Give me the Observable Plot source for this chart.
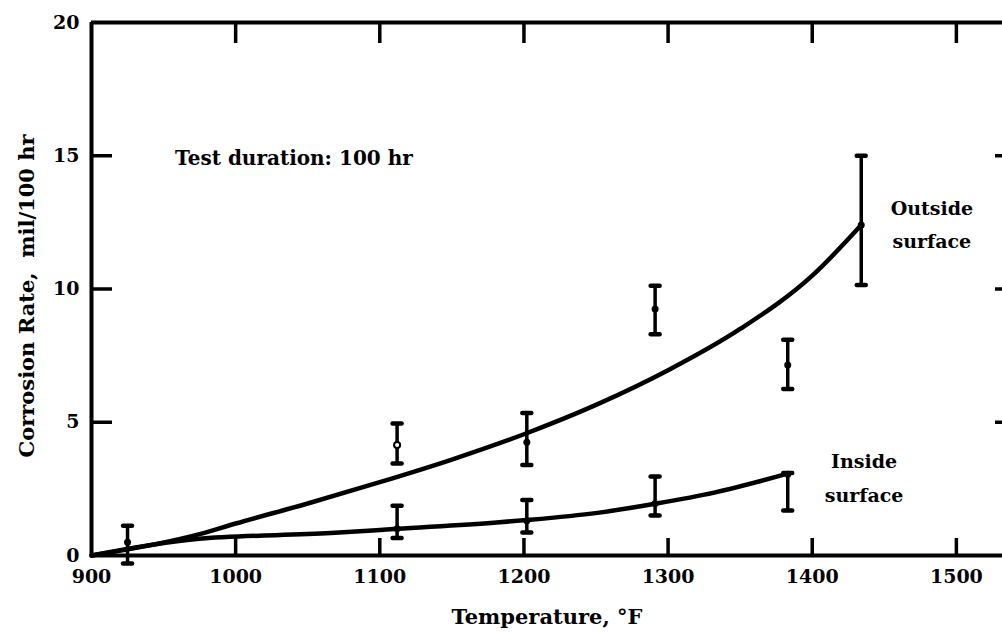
<!DOCTYPE html>
<html><head><meta charset="utf-8">
<script src="https://cdn.jsdelivr.net/npm/d3@7"></script>
<script src="https://cdn.jsdelivr.net/npm/@observablehq/plot@0.6"></script>
<style>
html,body{margin:0;padding:0;background:#fff;}
#chart svg{display:block;}
</style></head><body><div id="chart"></div>
<script>
// Outside surface measurements (temperature °F, corrosion rate mil/100 hr)
const outsideT   = [925, 1112, 1202, 1291, 1383, 1434];
const outsideMid = [0.5, 4.15, 4.25, 9.25, 7.15, 12.4];
const outsideLo  = [-0.3, 3.45, 3.4, 8.3, 6.25, 10.15];
const outsideHi  = [1.12, 4.95, 5.35, 10.12, 8.1, 15.0];

// Inside surface measurements
const insideT   = [1112, 1202, 1291, 1383];
const insideMid = [1.0, 1.3, 1.95, 3.05];
const insideLo  = [0.66, 0.86, 1.5, 1.69];
const insideHi  = [1.87, 2.08, 2.96, 3.1];

// Fitted curves
const outsideCurveT = [900, 975, 1000, 1050, 1100, 1150, 1200, 1250, 1300, 1350, 1400, 1434];
const outsideCurveY = [0, 0.8, 1.2, 1.95, 2.75, 3.6, 4.55, 5.65, 6.95, 8.5, 10.5, 12.4];
const insideCurveT  = [900, 973, 1066, 1112, 1181, 1204, 1251, 1292, 1332, 1383];
const insideCurveY  = [0, 0.62, 0.84, 1.0, 1.24, 1.34, 1.6, 1.95, 2.36, 3.07];

const xTicks = [900, 1000, 1100, 1200, 1300, 1400, 1500];
const yTicks = [0, 5, 10, 15, 20];

const yTitle = "Corrosion Rate,  mil/100 hr";
const xTitle = "Temperature, °F";
const note = "Test duration: 100 hr";
const outsideLabel = "Outside\nsurface";
const insideLabel = "Inside\nsurface";

const bars = (T, mid, lo, hi) => T.map((t, i) => ({t, mid: mid[i], lo: lo[i], hi: hi[i]}));
const outsideBars = bars(outsideT, outsideMid, outsideLo, outsideHi);
const insideBars = bars(insideT, insideMid, insideLo, insideHi);
const allBars = outsideBars.concat(insideBars);
const curve = (T, Y) => T.map((t, i) => ({t, v: Y[i]}));

const W = 1002, H = 636, mL = 91, mR = 0, mT = 22, mB = 81;
const pw = W - mL - mR, ph = H - mT - mB;
const font = "'DejaVu Serif', serif";
const cap = {draw(ctx, size) { ctx.moveTo(-4.5, 0); ctx.lineTo(4.5, 0); }};
const inner = xTicks.filter(d => d > 900);
const innerY = yTicks.filter(d => d > 0 && d < 20);
const T = {fontWeight: "bold", fontFamily: font};

const chart = Plot.plot({
  width: W, height: H,
  marginLeft: mL, marginRight: mR, marginTop: mT, marginBottom: mB,
  style: {fontFamily: font, fontWeight: "bold", fontSize: "19px", color: "#000", background: "#fff"},
  x: {domain: [900, 1532]},
  y: {domain: [0, 20]},
  marks: [
    // frame
    Plot.ruleY([0, 20], {stroke: "#000", strokeWidth: 4}),
    Plot.ruleX([900], {stroke: "#000", strokeWidth: 4}),
    // inward ticks
    Plot.ruleX(inner, {insetBottom: ph - 21, stroke: "#000", strokeWidth: 3.5}),
    Plot.ruleX(inner, {insetTop: ph - 17, stroke: "#000", strokeWidth: 3.5}),
    Plot.ruleY(innerY, {insetRight: pw - 21, stroke: "#000", strokeWidth: 3.5}),
    Plot.ruleY(innerY, {insetLeft: pw - 7, stroke: "#000", strokeWidth: 3.5}),
    // tick labels
    Plot.axisX(xTicks, {tickSize: 0, tickPadding: 14, label: null, tickFormat: d => String(d), fontSize: 19, ...T}),
    Plot.axisY(yTicks, {tickSize: 0, tickPadding: 12, label: null, tickFormat: d => String(d), fontSize: 19, ...T}),
    // axis titles
    Plot.text([yTitle], {frameAnchor: "left", textAnchor: "middle", dx: -64, dy: 7, rotate: -90, fontSize: 21, ...T}),
    Plot.text([xTitle], {frameAnchor: "bottom", dy: 68, fontSize: 21, ...T}),
    // curves
    Plot.line(curve(outsideCurveT, outsideCurveY), {x: "t", y: "v", curve: "monotone-x", stroke: "#000", strokeWidth: 4.5}),
    Plot.line(curve(insideCurveT, insideCurveY), {x: "t", y: "v", curve: "monotone-x", stroke: "#000", strokeWidth: 4.5}),
    // error bars
    Plot.ruleX(allBars, {x: "t", y1: "lo", y2: "hi", stroke: "#000", strokeWidth: 3.5}),
    Plot.dot(allBars, {x: "t", y: "hi", symbol: cap, stroke: "#000", strokeWidth: 4.5, strokeLinecap: "round", fill: "none"}),
    Plot.dot(allBars, {x: "t", y: "lo", symbol: cap, stroke: "#000", strokeWidth: 4.5, strokeLinecap: "round", fill: "none"}),
    Plot.dot(allBars, {x: "t", y: "mid", r: 3.5, fill: "#000", stroke: "none"}),
    Plot.dot(outsideBars.filter((d, i) => i === 1), {x: "t", y: "mid", r: 3, fill: "#fff", stroke: "#000", strokeWidth: 2}),
    // annotations
    Plot.text([note], {x: 958, y: 14.9, textAnchor: "start", fontSize: 20, ...T}),
    Plot.text([outsideLabel], {x: 1483, y: 12.55, lineHeight: 1.75, fontSize: 19, ...T}),
    Plot.text([insideLabel], {x: 1436, y: 3.05, lineHeight: 1.8, fontSize: 19, ...T})
  ]
});
document.getElementById("chart").appendChild(chart);
</script>
</body></html>
